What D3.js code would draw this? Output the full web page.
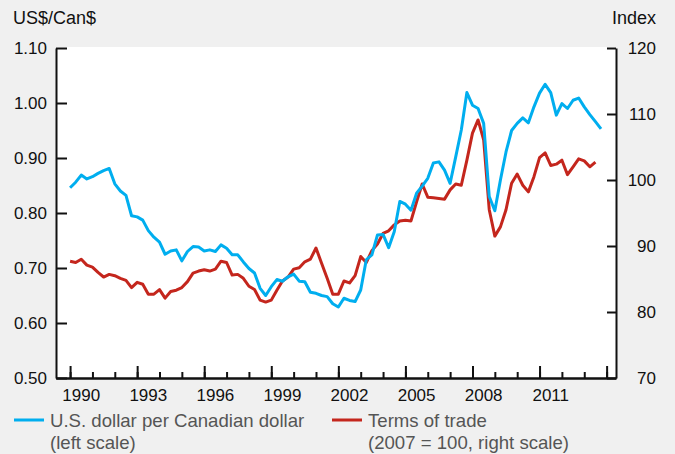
<!DOCTYPE html>
<html>
<head>
<meta charset="utf-8">
<script src="https://cdn.jsdelivr.net/npm/d3@7"></script>
<style>
  body { margin: 0; background: #f0f0f0; }
  svg { display: block; }
  text { font-family: "Liberation Sans", Arial, Helvetica, sans-serif; }
</style>
</head>
<body>
<script>
// quarterly series, first value is 1990 Q1
var startYear = 1990
var usdPerCad = [
  0.846, 0.856, 0.869, 0.862,
  0.866, 0.872, 0.877, 0.881,
  0.853, 0.840, 0.832, 0.795,
  0.793, 0.787, 0.768, 0.756,
  0.747, 0.725, 0.731, 0.733,
  0.713, 0.730, 0.739, 0.738,
  0.731, 0.733, 0.730, 0.742,
  0.736, 0.724, 0.724, 0.711,
  0.699, 0.691, 0.663, 0.650,
  0.666, 0.679, 0.676, 0.684,
  0.689, 0.676, 0.675, 0.656,
  0.654, 0.650, 0.648, 0.635,
  0.629, 0.645, 0.641, 0.639,
  0.660, 0.715, 0.724, 0.760,
  0.761, 0.737, 0.766, 0.821,
  0.816, 0.805, 0.836, 0.849,
  0.863, 0.891, 0.893, 0.878,
  0.854, 0.902, 0.951, 1.019,
  0.996, 0.990, 0.963, 0.830,
  0.804, 0.860, 0.911, 0.950,
  0.963, 0.973, 0.964, 0.993,
  1.018, 1.034, 1.019, 0.978,
  0.999, 0.990, 1.005, 1.009,
  0.993, 0.979, 0.966, 0.953
]
var termsOfTrade = [
  87.7, 87.5, 88.0, 87.1,
  86.8, 86.0, 85.3, 85.7,
  85.5, 85.1, 84.8, 83.7,
  84.5, 84.2, 82.7, 82.7,
  83.4, 82.1, 83.1, 83.3,
  83.7, 84.6, 85.9, 86.2,
  86.4, 86.2, 86.5, 87.7,
  87.5, 85.6, 85.7, 85.1,
  83.9, 83.4, 81.8, 81.5,
  81.8, 83.3, 84.7, 85.3,
  86.5, 86.7, 87.6, 88.0,
  89.7, 87.4, 85.1, 82.7,
  82.7, 84.7, 84.4, 85.5,
  88.4, 87.5, 89.3, 90.3,
  91.9, 92.3, 93.2, 93.8,
  93.9, 93.8, 96.7, 99.4,
  97.4, 97.3, 97.2, 97.1,
  98.5, 99.4, 99.2, 103.0,
  107.1, 109.1, 106.1, 95.5,
  91.5, 92.9, 95.5, 99.5,
  100.9, 99.2, 98.2, 100.5,
  103.4, 104.1, 102.2, 102.4,
  103.0, 100.8, 102.0, 103.2,
  102.9, 102.0, 102.7
]
var labelYears = [1990, 1993, 1996, 1999, 2002, 2005, 2008, 2011]
var majorYears = [1990, 1993, 1996, 1999, 2002, 2005, 2008, 2011, 2014]
var minorYears = d3.range(1990, 2015)
var leftTicks = [0.50, 0.60, 0.70, 0.80, 0.90, 1.00, 1.10]
var rightTicks = [70, 80, 90, 100, 110, 120]
var leftTitle = "US$/Can$"
var rightTitle = "Index"
var legendItems = [
  { lines: ["U.S. dollar per Canadian dollar", "(left scale)"], color: "#00aeef" },
  { lines: ["Terms of trade", "(2007 = 100, right scale)"], color: "#c4261d" }
]

var width = 675
var height = 454
var plot = { left: 56, right: 616, top: 48, bottom: 378 }

var svg = d3.select("body").append("svg")
  .attr("width", width)
  .attr("height", height)

svg.append("rect")
  .attr("width", width).attr("height", height)
  .attr("fill", "#f0f0f0")

svg.append("rect")
  .attr("x", plot.left).attr("y", plot.top - 1)
  .attr("width", plot.right - plot.left)
  .attr("height", plot.bottom - plot.top + 1)
  .attr("fill", "#fff")

var x = d3.scaleLinear().domain([1989.37, 2014.42]).range([plot.left, plot.right])
var yL = d3.scaleLinear().domain([0.5, 1.1]).range([plot.bottom, plot.top])
var yR = d3.scaleLinear().domain([70, 120]).range([plot.bottom, plot.top])

function styleAxis(g) {
  g.selectAll("path, line").attr("stroke", "#111").attr("stroke-width", 2)
  g.selectAll("text").attr("fill", "#111").style("font-size", "17px")
}

// lines
var blueData = usdPerCad.map(function (v, i) { return { t: startYear + i / 4, v: v } })
var redData = termsOfTrade.map(function (v, i) { return { t: startYear + i / 4, v: v } })

svg.append("path")
  .datum(redData)
  .attr("fill", "none")
  .attr("stroke", legendItems[1].color)
  .attr("stroke-width", 3)
  .attr("stroke-linejoin", "round")
  .attr("d", d3.line().x(function (d) { return x(d.t) }).y(function (d) { return yR(d.v) }))

svg.append("path")
  .datum(blueData)
  .attr("fill", "none")
  .attr("stroke", legendItems[0].color)
  .attr("stroke-width", 3)
  .attr("stroke-linejoin", "round")
  .attr("d", d3.line().x(function (d) { return x(d.t) }).y(function (d) { return yL(d.v) }))

// x axis: minor and major ticks pointing inward
svg.append("g")
  .attr("transform", "translate(0," + plot.bottom + ")")
  .call(d3.axisBottom(x).tickValues(minorYears).tickSize(-6).tickSizeOuter(0).tickFormat(""))
  .call(styleAxis)
svg.append("g")
  .attr("transform", "translate(0," + plot.bottom + ")")
  .call(d3.axisBottom(x).tickValues(majorYears).tickSize(-12).tickSizeOuter(0).tickFormat(""))
  .call(styleAxis)

svg.append("g").selectAll("text")
  .data(labelYears)
  .enter().append("text")
  .attr("x", function (d) { return x(d + 0.5) })
  .attr("y", 401)
  .attr("text-anchor", "middle")
  .attr("fill", "#111")
  .style("font-size", "17px")
  .text(function (d) { return d })

// left axis
svg.append("g")
  .attr("transform", "translate(" + plot.left + ",0)")
  .call(d3.axisLeft(yL).tickValues(leftTicks).tickSize(-11).tickSizeOuter(0)
    .tickPadding(9).tickFormat(d3.format(".2f")))
  .call(styleAxis)

// right axis
var rAxis = svg.append("g")
  .attr("transform", "translate(" + plot.right + ",0)")
  .call(d3.axisRight(yR).tickValues(rightTicks).tickSize(-9).tickSizeOuter(0))
  .call(styleAxis)
rAxis.selectAll("text").attr("text-anchor", "end").attr("x", 40)

// axis titles
svg.append("text")
  .attr("x", 13).attr("y", 24)
  .attr("fill", "#111")
  .style("font-size", "18px")
  .text(leftTitle)
svg.append("text")
  .attr("x", 656).attr("y", 24)
  .attr("text-anchor", "end")
  .attr("fill", "#111")
  .style("font-size", "18px")
  .text(rightTitle)

// legend
var legendX = [14, 332]
var legend = svg.selectAll("g.legend")
  .data(legendItems)
  .enter().append("g")
  .attr("class", "legend")
  .attr("transform", function (d, i) { return "translate(" + legendX[i] + ",0)" })

legend.append("line")
  .attr("x1", 0).attr("x2", 30)
  .attr("y1", 420).attr("y2", 420)
  .attr("stroke", function (d) { return d.color })
  .attr("stroke-width", 3)

legend.each(function (d) {
  d3.select(this).selectAll("text")
    .data(d.lines)
    .enter().append("text")
    .attr("x", 36)
    .attr("y", function (l, j) { return 427 + j * 22 })
    .attr("fill", "#555")
    .style("font-size", "18.6px")
    .text(function (l) { return l })
})
</script>
</body>
</html>
